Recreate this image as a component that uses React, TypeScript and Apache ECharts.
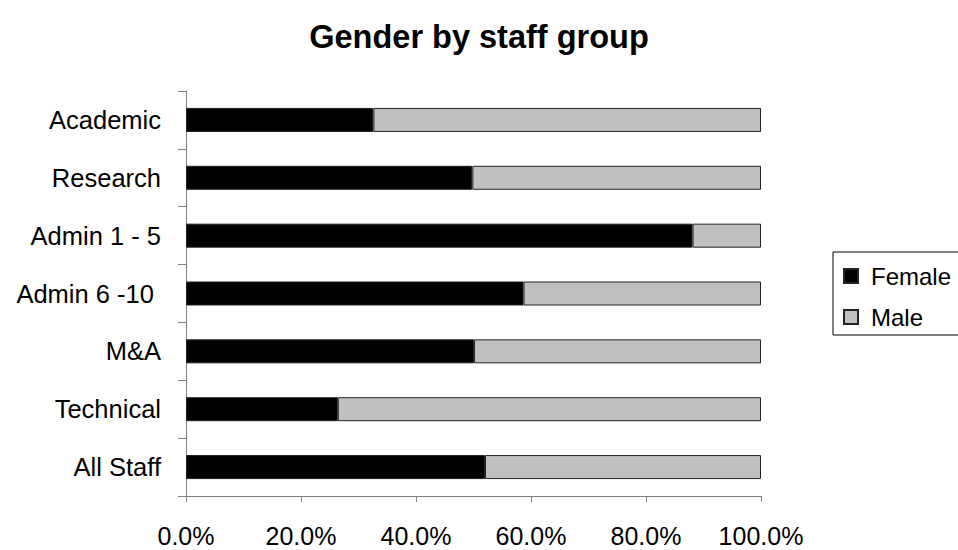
import React, { useEffect, useRef } from "react";
import * as echarts from "echarts";

const categories = ["Academic", "Research", "Admin 1 - 5", "Admin 6 -10 ", "M&A", "Technical", "All Staff"];
const female = [32.6, 49.8, 88.1, 58.7, 50.1, 26.4, 52.0];
const male = [67.4, 50.2, 11.9, 41.3, 49.9, 73.6, 48.0];
const xTicks = [0, 20, 40, 60, 80, 100];

const FONT = "Liberation Sans, Arial, sans-serif";

export default function App() {
  const ref = useRef<HTMLDivElement>(null);
  useEffect(() => {
    document.body.style.margin = "0";
    const chart = echarts.init(ref.current!, null, { renderer: "svg" });
    chart.setOption({
      animation: false,
      backgroundColor: "#ffffff",
      textStyle: { fontFamily: FONT },
      title: {
        text: "Gender by staff group",
        left: "center",
        top: 20,
        padding: 0,
        textStyle: { fontSize: 32.5, fontWeight: "bold", color: "#000", fontFamily: FONT },
      },
      legend: {
        orient: "vertical",
        left: 833,
        top: 252,
        padding: [12, 10, 6, 10],
        itemGap: 17,
        itemWidth: 14,
        itemHeight: 14,
        borderColor: "#000",
        borderWidth: 1,
        icon: "rect",
        textStyle: { fontSize: 24, color: "#000", fontFamily: FONT, padding: [0, 0, 0, 8] },
        data: ["Female", "Male"],
      },
      grid: { left: 186, right: 197, top: 91, bottom: 54, containLabel: false },
      xAxis: {
        type: "value",
        min: xTicks[0],
        max: xTicks[xTicks.length - 1],
        interval: 20,
        splitLine: { show: false },
        axisLine: { show: true, lineStyle: { color: "#808080", width: 1 } },
        axisTick: { show: true, length: 6, lineStyle: { color: "#808080" } },
        axisLabel: {
          margin: 27,
          fontSize: 25,
          color: "#000",
          fontFamily: FONT,
          formatter: (v: number) => v.toFixed(1) + "%",
        },
      },
      yAxis: {
        type: "category",
        inverse: true,
        data: categories,
        axisLine: { show: true, lineStyle: { color: "#808080", width: 1 } },
        axisTick: { show: true, length: 8, lineStyle: { color: "#808080" } },
        axisLabel: { margin: 25, fontSize: 25.5, color: "#000", fontFamily: FONT },
      },
      series: [
        {
          name: "Female",
          type: "bar",
          stack: "total",
          barWidth: 24,
          data: female,
          itemStyle: { color: "#000000", borderColor: "#222222", borderWidth: 1 },
        },
        {
          name: "Male",
          type: "bar",
          stack: "total",
          barWidth: 24,
          data: male,
          itemStyle: { color: "#C0C0C0", borderColor: "#222222", borderWidth: 1 },
        },
      ],
    });
    return () => chart.dispose();
  }, []);
  return <div ref={ref} style={{ width: 958, height: 550 }} />;
}
